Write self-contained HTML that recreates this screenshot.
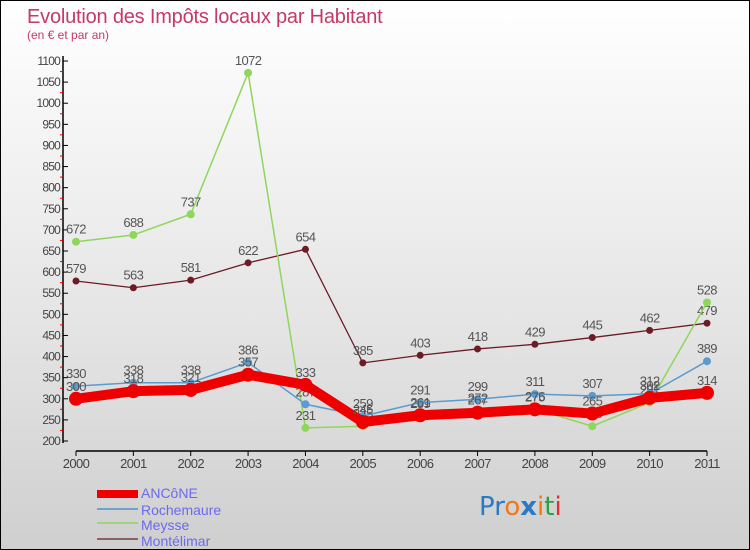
<!DOCTYPE html>
<html><head><meta charset="utf-8"><style>
html,body{margin:0;padding:0}
body{width:750px;height:550px;overflow:hidden;font-family:"Liberation Sans",sans-serif}
#wrap{position:relative;width:748px;height:548px;border:1px solid #000;background:linear-gradient(#ffffff,#e4e4e4 60%,#cfcfcf)}
</style></head><body>
<div id="wrap">
<svg id="chart" width="748" height="548" style="position:absolute;left:0;top:0">
<text x="26" y="22" font-size="20" fill="#c43a64" style="letter-spacing:-0.2px">Evolution des Impôts locaux par Habitant</text>
<text x="26" y="38" font-size="12" fill="#c43a64">(en € et par an)</text>
<g id="axes"></g><g id="series"></g>
<g>
<rect x="96" y="489" width="41" height="8" fill="#ee0000"/>
<text x="140" y="497" font-size="14" fill="#6a6aee">ANCôNE</text>
<rect x="96" y="507" width="41" height="2" fill="#6fa3cc"/>
<text x="140" y="514" font-size="14" fill="#6a6aee">Rochemaure</text>
<rect x="96" y="521" width="41" height="2" fill="#9cd67c"/>
<text x="140" y="529" font-size="14" fill="#6a6aee">Meysse</text>
<rect x="96" y="537" width="41" height="2" fill="#8a6060"/>
<text x="140" y="545" font-size="14" fill="#6a6aee">Montélimar</text>
</g>
<text x="478" y="514" font-size="26" font-family="'DejaVu Sans',sans-serif"><tspan fill="#2a78c8">Pr</tspan><tspan fill="#f07818">o</tspan><tspan fill="#2a78c8" font-weight="bold">x</tspan><tspan fill="#f07818">i</tspan><tspan fill="#2aa040">t</tspan><tspan fill="#e03030">i</tspan></text>
</svg>
</div>
<script>
const years=["2000","2001","2002","2003","2004","2005","2006","2007","2008","2009","2010","2011"];
const yTicks=[200,250,300,350,400,450,500,550,600,650,700,750,800,850,900,950,1000,1050,1100];
const ancone=[300,318,321,357,333,245,261,267,275,265,302,314];
const rochemaure=[330,338,338,386,287,259,291,299,311,307,312,389];
const meysse=[672,688,737,1072,231,235,259,272,276,235,291,528];
const montelimar=[579,563,581,622,654,385,403,418,429,445,462,479];
const NS="http://www.w3.org/2000/svg";
const X0=75,X1=706,Y0=440,Y1=60,VMIN=200,VMAX=1100;
const xs=i=>X0+(X1-X0)*i/(years.length-1);
const ys=v=>Y0-(v-VMIN)*(Y0-Y1)/(VMAX-VMIN);
function mk(tag,attrs,parent){const e=document.createElementNS(NS,tag);for(const k in attrs)e.setAttribute(k,attrs[k]);parent.appendChild(e);return e;}
const ax=document.getElementById('axes');
let l=mk('line',{x1:62,y1:55,x2:62,y2:442,stroke:'#000','stroke-width':1.5},ax);


l=mk('line',{x1:X0,y1:450,x2:X1,y2:450,stroke:'#000','stroke-width':1.5},ax);


yTicks.forEach(v=>{
 const y=ys(v);
 mk('line',{x1:62,y1:y,x2:67,y2:y,stroke:'#000'},ax);
 const t=mk('text',{x:59,y:y+4,'font-size':12,'text-anchor':'end',fill:'#444','letter-spacing':'-0.8'},ax);
 t.textContent=v;
 
 
 if(v<1100){mk('line',{x1:59,y1:ys(v+25),x2:62,y2:ys(v+25),stroke:'#e00'},ax);}
});
years.forEach((yr,i)=>{
 mk('line',{x1:xs(i),y1:450,x2:xs(i),y2:455,stroke:'#000'},ax);
 const t=mk('text',{x:xs(i),y:467,'font-size':13,'text-anchor':'middle',fill:'#444','letter-spacing':'-0.6'},ax);
 t.textContent=yr;
 
 
});
const sg=document.getElementById('series');
function series(name,data,color,w,r){
 const g=mk('g',{},sg);
 
 
 const p=mk('polyline',{points:data.map((v,i)=>xs(i)+','+ys(v)).join(' '),fill:'none',stroke:color,'stroke-width':w,'stroke-linejoin':'round'},g);
 
 
 data.forEach((v,i)=>{
  const c=mk('circle',{cx:xs(i),cy:ys(v),r:r,fill:color},g);
  
  
  const t=mk('text',{x:xs(i),y:ys(v)-8,'font-size':13,'text-anchor':'middle',fill:'#555','letter-spacing':'-0.6'},g);
  t.textContent=v;
  
  
 });
}
series('montelimar',montelimar,'#6b1c24',1.3,3.5);
series('meysse',meysse,'#8fd65c',1.5,4);
series('rochemaure',rochemaure,'#5a9bd0',1.5,4);
series('ancone',ancone,'#ee0000',10,7);
</script>
</body></html>
